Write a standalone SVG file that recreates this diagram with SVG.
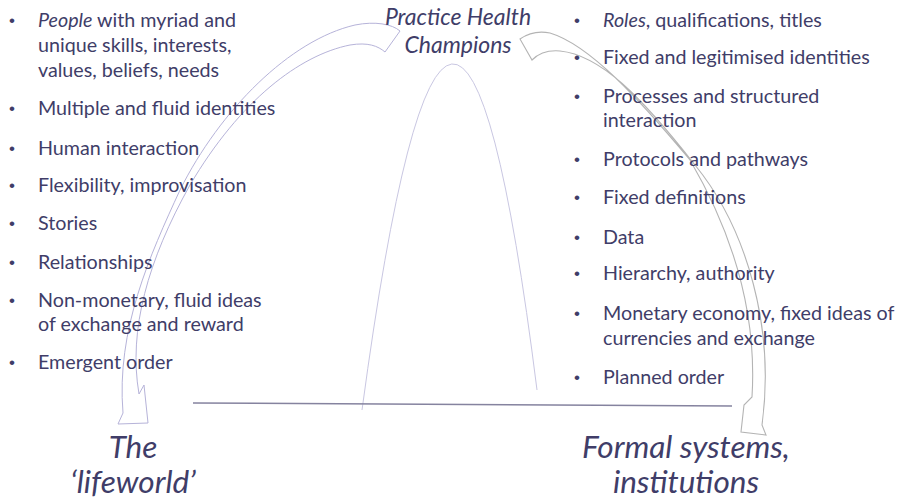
<svg xmlns="http://www.w3.org/2000/svg" width="898" height="501" viewBox="0 0 898 501">
<style>
  .t { font-family: Lato, "Liberation Sans", sans-serif; font-size: 19.7px; fill: #403d68; }
  .b { font-family: "Liberation Sans", sans-serif; font-size: 17px; fill: #403d68; }
  .i { font-style: italic; }
  .h { font-family: Lato, "Liberation Sans", sans-serif; font-size: 23px; font-style: italic; fill: #403d68; text-anchor: middle; }
  .big { font-family: Lato, "Liberation Sans", sans-serif; font-size: 31.5px; font-style: italic; fill: #403d68; text-anchor: middle; }
  .arrL { fill: none; stroke: #b6b3d9; stroke-width: 1; }
  .arrR { fill: none; stroke: #b4b4b4; stroke-width: 1.1; }
</style>
<rect width="898" height="501" fill="#ffffff"/>
<g id="connectors">
  <path id="hump" d="M362,410 Q454,-272 537,390" fill="none" stroke="#c9c7e2" stroke-width="1"/>
  <line id="baseline" x1="193" y1="403" x2="732" y2="406" stroke="#85839f" stroke-width="1.5"/>
  <path id="arrow-left" class="arrL" d="M400,31 C392,24 375,21 355,25 C290,40 220,110 180,190 C150,255 116,330 123,413 L118,424 L148,423 L144,385 L139,394 C128,330 148,260 190,185 C240,100 300,55 350,45 C368,42 378,46 385,52 Z"/>
  <path id="arrow-right" class="arrR" d="M520,39 C530,32 540,31 550,33 C590,45 640,100 690,160 C725,220 758,300 752,397 L744,405 L741,432 L766,435 L762,425 C775,330 748,230 695,165 C640,95 600,55 560,51 C548,50 538,54 532,60 Z"/>
</g>
<g id="lifeworld-list">
  <text class="b" x="9" y="26">•</text><text class="t" x="38" y="27"><tspan class="i">People</tspan> with myriad and</text>
  <text class="t" x="38" y="52">unique skills, interests,</text>
  <text class="t" x="38" y="77">values, beliefs, needs</text>
  <text class="b" x="9" y="114">•</text><text class="t" x="38" y="115">Multiple and fluid identities</text>
  <text class="b" x="9" y="154">•</text><text class="t" x="38" y="155">Human interaction</text>
  <text class="b" x="9" y="191">•</text><text class="t" x="38" y="192">Flexibility, improvisation</text>
  <text class="b" x="9" y="229">•</text><text class="t" x="38" y="230">Stories</text>
  <text class="b" x="9" y="268">•</text><text class="t" x="38" y="269">Relationships</text>
  <text class="b" x="9" y="306">•</text><text class="t" x="38" y="307">Non-monetary, fluid ideas</text>
  <text class="t" x="38" y="331">of exchange and reward</text>
  <text class="b" x="9" y="368">•</text><text class="t" x="38" y="369">Emergent order</text>
</g>
<g id="formal-list">
  <text class="b" x="574" y="26">•</text><text class="t" x="603" y="27"><tspan class="i">Roles</tspan>, qualifications, titles</text>
  <text class="b" x="574" y="63">•</text><text class="t" x="603" y="64">Fixed and legitimised identities</text>
  <text class="b" x="574" y="102">•</text><text class="t" x="603" y="103">Processes and structured</text>
  <text class="t" x="603" y="127">interaction</text>
  <text class="b" x="574" y="165">•</text><text class="t" x="603" y="166">Protocols and pathways</text>
  <text class="b" x="574" y="203">•</text><text class="t" x="603" y="204">Fixed definitions</text>
  <text class="b" x="574" y="243">•</text><text class="t" x="603" y="244">Data</text>
  <text class="b" x="574" y="279">•</text><text class="t" x="603" y="280">Hierarchy, authority</text>
  <text class="b" x="574" y="319">•</text><text class="t" x="603" y="320">Monetary economy, fixed ideas of</text>
  <text class="t" x="603" y="345">currencies and exchange</text>
  <text class="b" x="574" y="383">•</text><text class="t" x="603" y="384">Planned order</text>
</g>
<g id="champions">
  <text class="h" x="458" y="25">Practice Health</text>
  <text class="h" x="458" y="53">Champions</text>
</g>
<g id="lifeworld">
  <text class="big" x="133" y="458">The</text>
  <text class="big" x="133" y="493">‘lifeworld’</text>
</g>
<g id="formal-systems">
  <text class="big" x="686" y="458">Formal systems,</text>
  <text class="big" x="686" y="493">institutions</text>
</g>
</svg>
